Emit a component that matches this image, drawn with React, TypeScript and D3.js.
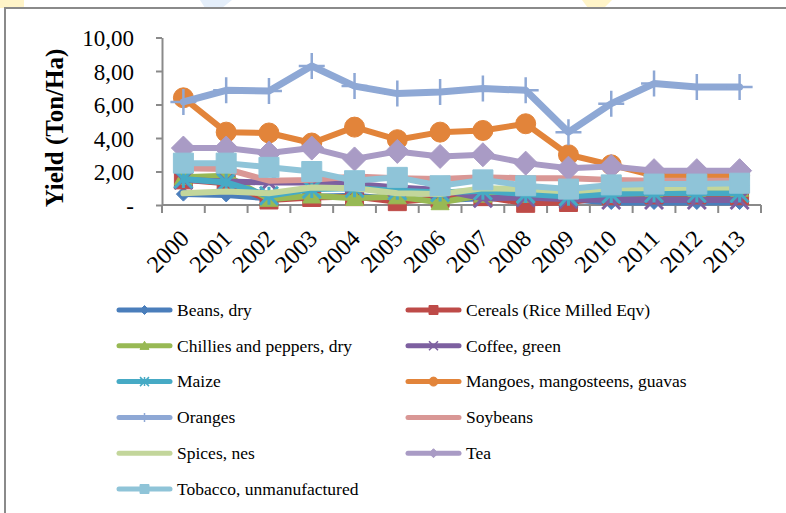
import React, { useRef, useEffect } from "react"
import * as d3 from "d3"

const years = ["2000", "2001", "2002", "2003", "2004", "2005", "2006", "2007", "2008", "2009", "2010", "2011", "2012", "2013"]

const beans = [0.65, 0.6, 0.4, 0.5, 0.55, 0.35, 0.3, 0.4, 0.35, 0.35, 0.15, 0.15, 0.15, 0.15]
const cereals = [1.5, 1.3, 0.3, 0.45, 0.5, 0.2, 0.4, 0.5, 0.1, 0.15, 0.55, 0.6, 0.6, 0.55]
const chillies = [1.65, 1.75, 0.35, 0.55, 0.4, 0.5, 0.15, 0.6, 0.6, 0.7, 0.9, 0.95, 0.95, 0.95]
const coffee = [1.5, 1.4, 1.35, 1.35, 1.25, 1.05, 0.9, 0.4, 0.45, 0.35, 0.3, 0.3, 0.3, 0.3]
const maize = [1.55, 1.35, 0.55, 0.95, 1.0, 0.85, 0.75, 0.85, 0.65, 0.5, 0.65, 0.7, 0.7, 0.7]
const mangoes = [6.4, 4.35, 4.3, 3.7, 4.65, 3.9, 4.35, 4.45, 4.85, 3.0, 2.4, 1.75, 1.75, 1.75]
const oranges = [6.15, 6.85, 6.8, 8.3, 7.1, 6.65, 6.75, 6.95, 6.85, 4.35, 6.05, 7.25, 7.05, 7.05]
const soybeans = [2.2, 2.15, 1.45, 1.5, 1.7, 1.6, 1.55, 1.65, 1.6, 1.6, 1.5, 1.45, 1.45, 1.45]
const spices = [0.7, 0.8, 0.7, 1.05, 1.0, 0.7, 0.65, 1.0, 0.95, 0.8, 1.0, 1.0, 1.05, 1.05]
const tea = [3.4, 3.4, 3.1, 3.4, 2.75, 3.2, 2.9, 3.0, 2.5, 2.2, 2.3, 2.05, 2.05, 2.05]
const tobacco = [2.5, 2.5, 2.25, 2.0, 1.45, 1.65, 1.15, 1.5, 1.15, 0.95, 1.2, 1.25, 1.25, 1.3]

const yTicks = [0, 2, 4, 6, 8, 10]
const yTickLabels = ["-", "2,00", "4,00", "6,00", "8,00", "10,00"]

type Series = { name: string; values: number[]; color: string; marker: string; size: number }

const series: Series[] = [
  { name: "Beans, dry", values: beans, color: "#4A7EBB", marker: "diamond", size: 7 },
  { name: "Cereals (Rice Milled Eqv)", values: cereals, color: "#BE4B48", marker: "square", size: 9 },
  { name: "Chillies and peppers, dry", values: chillies, color: "#98B954", marker: "triangle", size: 9 },
  { name: "Coffee, green", values: coffee, color: "#7D60A0", marker: "x", size: 9 },
  { name: "Maize", values: maize, color: "#46AAC5", marker: "star", size: 9 },
  { name: "Mangoes, mangosteens, guavas", values: mangoes, color: "#E2843A", marker: "circle", size: 10 },
  { name: "Oranges", values: oranges, color: "#8EA8D5", marker: "plus", size: 13 },
  { name: "Soybeans", values: soybeans, color: "#D99795", marker: "none", size: 0 },
  { name: "Spices, nes", values: spices, color: "#C3D69B", marker: "none", size: 0 },
  { name: "Tea", values: tea, color: "#A99BC5", marker: "diamond", size: 12 },
  { name: "Tobacco, unmanufactured", values: tobacco, color: "#8FC4D8", marker: "square", size: 10 },
]

const font = "'Liberation Serif', 'Times New Roman', serif"

function markerPath(kind: string, r: number): string {
  if (kind === "diamond") return `M0,${-r}L${r},0L0,${r}L${-r},0Z`
  if (kind === "square") return `M${-r},${-r}H${r}V${r}H${-r}Z`
  if (kind === "triangle") return `M0,${-r}L${r},${r * 0.8}L${-r},${r * 0.8}Z`
  if (kind === "circle") return d3.symbol(d3.symbolCircle, Math.PI * r * r)() || ""
  if (kind === "x") return `M${-r},${-r}L${r},${r}M${r},${-r}L${-r},${r}`
  if (kind === "star") return `M${-r},${-r}L${r},${r}M${r},${-r}L${-r},${r}M0,${-r}V${r}`
  if (kind === "plus") return `M${-r},0H${r}M0,${-r}V${r}`
  return ""
}

const isStroked = (kind: string) => kind === "x" || kind === "star" || kind === "plus"

const YieldChart: React.FC<{ width: number; height: number }> = ({ width, height }) => {
  const svgRef = useRef<SVGSVGElement | null>(null)

  useEffect(() => {
    if (!svgRef.current) return
    const svg = d3.select(svgRef.current)
    svg.selectAll("*").remove()

    const left = 162
    const right = 761
    const bottom = 205
    const top = 37.5

    const x = d3.scaleBand<string>().domain(years).range([left, right])
    const cx = (yr: string) => (x(yr) || 0) + x.bandwidth() / 2
    const y = d3.scaleLinear().domain([0, 10]).range([bottom, top])

    svg.append("rect").attr("width", width).attr("height", height).attr("fill", "#fff")

    // faint watermark bits above the frame
    svg.append("rect").attr("x", 0).attr("y", 0).attr("width", 24).attr("height", 8).attr("fill", "#FFF4C8")
    svg.append("path").attr("d", "M200,0L232,0L222,8L205,8Z").attr("fill", "#E4EEFA")
    svg.append("path").attr("d", "M582,0L612,0L604,8L588,8Z").attr("fill", "#FFF4C8")

    // outer frame
    svg.append("rect")
      .attr("x", 5).attr("y", 8)
      .attr("width", width + 10).attr("height", height + 10)
      .attr("fill", "none").attr("stroke", "#8a8a8a").attr("stroke-width", 2)

    // Y axis
    const yAxis = svg.append("g")
      .attr("transform", `translate(${left},0)`)
      .call(
        d3.axisLeft(y)
          .tickValues(yTicks)
          .tickSize(6)
          .tickSizeOuter(0)
          .tickPadding(22)
          .tickFormat((_d, i) => yTickLabels[i])
      )
    yAxis.select(".domain").attr("stroke", "#8a8a8a").attr("stroke-width", 2)
    yAxis.selectAll(".tick line").attr("stroke", "#8a8a8a").attr("stroke-width", 2)
    yAxis.selectAll(".tick text")
      .attr("font-family", font).attr("font-size", 23).attr("fill", "#000")
      .attr("dy", "0.35em")

    // X axis
    const xAxis = svg.append("g")
    xAxis.append("line")
      .attr("x1", left).attr("x2", right).attr("y1", bottom).attr("y2", bottom)
      .attr("stroke", "#8a8a8a").attr("stroke-width", 2)
    const bounds = years.map((yr) => x(yr) || 0).concat([right])
    xAxis.selectAll("line.tick")
      .data(bounds)
      .join("line")
      .attr("class", "tick")
      .attr("x1", (d) => d).attr("x2", (d) => d)
      .attr("y1", bottom).attr("y2", bottom + 8)
      .attr("stroke", "#8a8a8a").attr("stroke-width", 2)
    xAxis.selectAll("text")
      .data(years)
      .join("text")
      .attr("transform", (d) => `translate(${cx(d) + 7},${bottom + 35}) rotate(-45)`)
      .attr("text-anchor", "end")
      .attr("font-family", font).attr("font-size", 24).attr("fill", "#000")
      .text((d) => d)

    // Y axis title
    svg.append("text")
      .attr("transform", `translate(63,128) rotate(-90)`)
      .attr("text-anchor", "middle")
      .attr("font-family", font).attr("font-size", 25).attr("font-weight", "bold")
      .attr("fill", "#000")
      .text("Yield (Ton/Ha)")

    // series
    const line = d3.line<number>()
      .x((_d, i) => cx(years[i]))
      .y((d) => y(d))

    series.forEach((s) => {
      const g = svg.append("g")
      g.append("path")
        .datum(s.values)
        .attr("fill", "none")
        .attr("stroke", s.color)
        .attr("stroke-width", s.name === "Oranges" ? 7 : 6)
        .attr("stroke-linejoin", "round")
        .attr("stroke-linecap", "round")
        .attr("d", line)
      if (s.marker !== "none") {
        g.selectAll("path.m")
          .data(s.values)
          .join("path")
          .attr("class", "m")
          .attr("transform", (d, i) => `translate(${cx(years[i])},${y(d)})`)
          .attr("d", markerPath(s.marker, s.size))
          .attr("fill", isStroked(s.marker) ? "none" : s.color)
          .attr("stroke", s.color)
          .attr("stroke-width", isStroked(s.marker) ? (s.marker === "plus" ? 2.5 : 3) : 1)
      }
    })

    // legend
    const rowY = d3.range(6).map((i) => 310 + i * 35.8)
    const legend = svg.append("g")
    series.forEach((s, i) => {
      const col = i % 2
      const row = Math.floor(i / 2)
      const lx = col === 0 ? 117 : 406
      const ly = rowY[row]
      const item = legend.append("g").attr("transform", `translate(${lx},${ly})`)
      item.append("line")
        .attr("x1", 2).attr("x2", 53).attr("y1", 0).attr("y2", 0)
        .attr("stroke", s.color).attr("stroke-width", 5).attr("stroke-linecap", "round")
      if (s.marker !== "none") {
        item.append("path")
          .attr("transform", "translate(27.5,0)")
          .attr("d", markerPath(s.marker, 4.5))
          .attr("fill", isStroked(s.marker) ? "none" : s.color)
          .attr("stroke", s.color)
          .attr("stroke-width", isStroked(s.marker) ? 1.5 : 1)
      }
      item.append("text")
        .attr("x", 60).attr("y", 0).attr("dy", "0.33em")
        .attr("font-family", font).attr("font-size", 17.5).attr("fill", "#000")
        .text(s.name)
    })
  }, [width, height])

  return <svg ref={svgRef} width={width} height={height} style={{ position: "absolute", left: 0, top: 0 }}></svg>
}

export default function App() {
  return <YieldChart width={786} height={513} />
}
